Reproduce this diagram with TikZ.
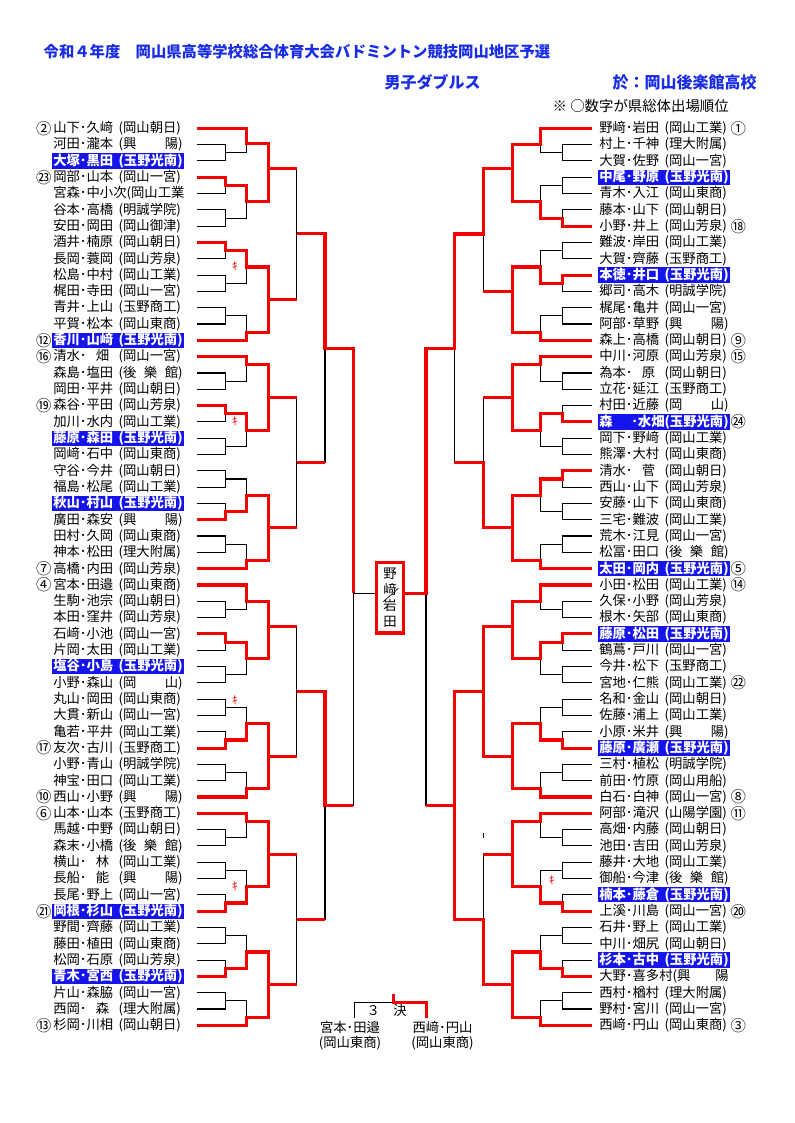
\documentclass[tikz,border=0pt]{standalone}
\usepackage{fontspec}
\setmainfont{Noto Sans CJK JP}
\definecolor{hlblue}{RGB}{20,20,235}
\definecolor{ttlblue}{RGB}{25,45,230}
\definecolor{winred}{RGB}{245,0,0}
\newcommand\tm[2]{\makebox[49pt][l]{#1}\makebox[48pt][l]{#2}}
\begin{document}
\begin{tikzpicture}[x=0.75pt,y=-0.75pt,
    ent/.style={anchor=west,inner xsep=1pt,inner ysep=0pt,minimum height=11.5pt,font=\fontsize{10}{12}\selectfont},
    hl/.style={fill=hlblue,text=white,font=\fontsize{10}{12}\selectfont\bfseries},
    num/.style={inner sep=0pt,font=\fontsize{11.5}{12}\selectfont},
    ln/.style={line width=0.8pt},
    win/.style={line width=2.3pt,draw=winred},
    ttl/.style={anchor=west,text=ttlblue,font=\fontsize{12}{14}\selectfont\bfseries},
    kiken/.style={text=winred,inner sep=0pt,font=\fontsize{8.5}{9}\selectfont}]
\useasboundingbox (0,0) rectangle (794,1123);

% heading
\node[ttl,font=\fontsize{11.5}{14}\selectfont\bfseries] (title) at (39,51.7)
    {令和４年度　岡山県高等学校総合体育大会バドミントン競技岡山地区予選};
\node[ttl] (event) at (380,82.7) {男子ダブルス};
\node[ttl] (venue) at (608,82.7) {於：岡山後楽館高校};
\node[anchor=west,font=\fontsize{10.8}{13}\selectfont] (note) at (548,106) {※ ○数字が県総体出場順位};

% left entries
\node[ent,label={[num]left:②}] (L1) at (51.7,128.3) {\tm{山下･久﨑}{(岡山朝日)}};
\node[ent] (L2) at (51.7,144.6) {\tm{河田･瀧本}{(興\hfill{}陽)}};
\node[ent,hl] (L3) at (51.7,160.9) {\tm{大塚･黒田}{(玉野光南)}};
\node[ent,label={[num]left:㉓}] (L4) at (51.7,177.2) {\tm{岡部･山本}{(岡山一宮)}};
\node[ent] (L5) at (51.7,193.5) {宮森･中小次(岡山工業};
\node[ent] (L6) at (51.7,209.9) {\tm{谷本･高橋}{(明誠学院)}};
\node[ent] (L7) at (51.7,226.2) {\tm{安田･岡田}{(岡山御津)}};
\node[ent] (L8) at (51.7,242.5) {\tm{酒井･楠原}{(岡山朝日)}};
\node[ent] (L9) at (51.7,258.8) {\tm{長岡･蓑岡}{(岡山芳泉)}};
\node[ent] (L10) at (51.7,275.1) {\tm{松島･中村}{(岡山工業)}};
\node[ent] (L11) at (51.7,291.4) {\tm{梶田･寺田}{(岡山一宮)}};
\node[ent] (L12) at (51.7,307.7) {\tm{青井･上山}{(玉野商工)}};
\node[ent] (L13) at (51.7,324.0) {\tm{平賀･松本}{(岡山東商)}};
\node[ent,hl,label={[num]left:⑫}] (L14) at (51.7,340.3) {\tm{香川･山﨑}{(玉野光南)}};
\node[ent,label={[num]left:⑯}] (L15) at (51.7,356.6) {\tm{清水･\hfill{}畑\hfill{}}{(岡山一宮)}};
\node[ent] (L16) at (51.7,373.0) {\tm{森島･塩田}{(後\hfill{}樂\hfill{}館)}};
\node[ent] (L17) at (51.7,389.3) {\tm{岡田･平井}{(岡山朝日)}};
\node[ent,label={[num]left:⑲}] (L18) at (51.7,405.6) {\tm{森谷･平田}{(岡山芳泉)}};
\node[ent] (L19) at (51.7,421.9) {\tm{加川･水内}{(岡山工業)}};
\node[ent,hl] (L20) at (51.7,438.2) {\tm{藤原･森田}{(玉野光南)}};
\node[ent] (L21) at (51.7,454.5) {\tm{岡﨑･石中}{(岡山東商)}};
\node[ent] (L22) at (51.7,470.8) {\tm{守谷･今井}{(岡山朝日)}};
\node[ent] (L23) at (51.7,487.1) {\tm{福島･松尾}{(岡山工業)}};
\node[ent,hl] (L24) at (51.7,503.4) {\tm{秋山･村山}{(玉野光南)}};
\node[ent] (L25) at (51.7,519.7) {\tm{廣田･森安}{(興\hfill{}陽)}};
\node[ent] (L26) at (51.7,536.0) {\tm{田村･久岡}{(岡山東商)}};
\node[ent] (L27) at (51.7,552.4) {\tm{神本･松田}{(理大附属)}};
\node[ent,label={[num]left:⑦}] (L28) at (51.7,568.7) {\tm{高橋･内田}{(岡山芳泉)}};
\node[ent,label={[num]left:④}] (L29) at (51.7,585.0) {\tm{宮本･田邉}{(岡山東商)}};
\node[ent] (L30) at (51.7,601.3) {\tm{生駒･池宗}{(岡山朝日)}};
\node[ent] (L31) at (51.7,617.6) {\tm{本田･窪井}{(岡山芳泉)}};
\node[ent] (L32) at (51.7,633.9) {\tm{石﨑･小池}{(岡山一宮)}};
\node[ent] (L33) at (51.7,650.2) {\tm{片岡･太田}{(岡山工業)}};
\node[ent,hl] (L34) at (51.7,666.5) {\tm{塩谷･小島}{(玉野光南)}};
\node[ent] (L35) at (51.7,682.8) {\tm{小野･森山}{(岡\hfill{}山)}};
\node[ent] (L36) at (51.7,699.1) {\tm{丸山･岡田}{(岡山東商)}};
\node[ent] (L37) at (51.7,715.4) {\tm{大貫･新山}{(岡山一宮)}};
\node[ent] (L38) at (51.7,731.8) {\tm{亀若･平井}{(岡山工業)}};
\node[ent,label={[num]left:⑰}] (L39) at (51.7,748.1) {\tm{友次･古川}{(玉野商工)}};
\node[ent] (L40) at (51.7,764.4) {\tm{小野･青山}{(明誠学院)}};
\node[ent] (L41) at (51.7,780.7) {\tm{神宝･田口}{(岡山工業)}};
\node[ent,label={[num]left:⑩}] (L42) at (51.7,797.0) {\tm{西山･小野}{(興\hfill{}陽)}};
\node[ent,label={[num]left:⑥}] (L43) at (51.7,813.3) {\tm{山本･山本}{(玉野商工)}};
\node[ent] (L44) at (51.7,829.6) {\tm{馬越･中野}{(岡山朝日)}};
\node[ent] (L45) at (51.7,845.9) {\tm{森末･小橋}{(後\hfill{}樂\hfill{}館)}};
\node[ent] (L46) at (51.7,862.2) {\tm{横山･\hfill{}林\hfill{}}{(岡山工業)}};
\node[ent] (L47) at (51.7,878.5) {\tm{長船･\hfill{}能\hfill{}}{(興\hfill{}陽)}};
\node[ent] (L48) at (51.7,894.8) {\tm{長尾･野上}{(岡山一宮)}};
\node[ent,hl,label={[num]left:㉑}] (L49) at (51.7,911.2) {\tm{岡根･杉山}{(玉野光南)}};
\node[ent] (L50) at (51.7,927.5) {\tm{野間･齊藤}{(岡山工業)}};
\node[ent] (L51) at (51.7,943.8) {\tm{藤田･植田}{(岡山東商)}};
\node[ent] (L52) at (51.7,960.1) {\tm{松岡･石原}{(岡山芳泉)}};
\node[ent,hl] (L53) at (51.7,976.4) {\tm{青木･宮西}{(玉野光南)}};
\node[ent] (L54) at (51.7,992.7) {\tm{片山･森脇}{(岡山一宮)}};
\node[ent] (L55) at (51.7,1009.0) {\tm{西岡･\hfill{}森\hfill{}}{(理大附属)}};
\node[ent,label={[num]left:⑬}] (L56) at (51.7,1025.3) {\tm{杉岡･川相}{(岡山朝日)}};

% right entries
\node[ent,label={[num]right:①}] (R1) at (597.7,128.3) {\tm{野﨑･岩田}{(岡山工業)}};
\node[ent] (R2) at (597.7,144.6) {\tm{村上･千神}{(理大附属)}};
\node[ent] (R3) at (597.7,160.9) {\tm{大賀･佐野}{(岡山一宮)}};
\node[ent,hl] (R4) at (597.7,177.2) {\tm{中尾･野原}{(玉野光南)}};
\node[ent] (R5) at (597.7,193.5) {\tm{青木･入江}{(岡山東商)}};
\node[ent] (R6) at (597.7,209.9) {\tm{藤本･山下}{(岡山朝日)}};
\node[ent,label={[num]right:⑱}] (R7) at (597.7,226.2) {\tm{小野･井上}{(岡山芳泉)}};
\node[ent] (R8) at (597.7,242.5) {\tm{難波･岸田}{(岡山工業)}};
\node[ent] (R9) at (597.7,258.8) {\tm{大賀･齊藤}{(玉野商工)}};
\node[ent,hl] (R10) at (597.7,275.1) {\tm{本徳･井口}{(玉野光南)}};
\node[ent] (R11) at (597.7,291.4) {\tm{郷司･高木}{(明誠学院)}};
\node[ent] (R12) at (597.7,307.7) {\tm{梶尾･亀井}{(岡山一宮)}};
\node[ent] (R13) at (597.7,324.0) {\tm{阿部･草野}{(興\hfill{}陽)}};
\node[ent,label={[num]right:⑨}] (R14) at (597.7,340.3) {\tm{森上･高橋}{(岡山朝日)}};
\node[ent,label={[num]right:⑮}] (R15) at (597.7,356.6) {\tm{中川･河原}{(岡山芳泉)}};
\node[ent] (R16) at (597.7,373.0) {\tm{為本･\hfill{}原\hfill{}}{(岡山朝日)}};
\node[ent] (R17) at (597.7,389.3) {\tm{立花･延江}{(玉野商工)}};
\node[ent] (R18) at (597.7,405.6) {\tm{村田･近藤}{(岡\hfill{}山)}};
\node[ent,hl,label={[num]right:㉔}] (R19) at (597.7,421.9) {\tm{森\hfill{}･水畑}{(玉野光南)}};
\node[ent] (R20) at (597.7,438.2) {\tm{岡下･野﨑}{(岡山工業)}};
\node[ent] (R21) at (597.7,454.5) {\tm{熊澤･大村}{(岡山東商)}};
\node[ent] (R22) at (597.7,470.8) {\tm{清水･\hfill{}菅\hfill{}}{(岡山朝日)}};
\node[ent] (R23) at (597.7,487.1) {\tm{西山･山下}{(岡山芳泉)}};
\node[ent] (R24) at (597.7,503.4) {\tm{安藤･山下}{(岡山東商)}};
\node[ent] (R25) at (597.7,519.7) {\tm{三宅･難波}{(岡山工業)}};
\node[ent] (R26) at (597.7,536.0) {\tm{荒木･江見}{(岡山一宮)}};
\node[ent] (R27) at (597.7,552.4) {\tm{松冨･田口}{(後\hfill{}樂\hfill{}館)}};
\node[ent,hl,label={[num]right:⑤}] (R28) at (597.7,568.7) {\tm{太田･岡内}{(玉野光南)}};
\node[ent,label={[num]right:⑭}] (R29) at (597.7,585.0) {\tm{小田･松田}{(岡山工業)}};
\node[ent] (R30) at (597.7,601.3) {\tm{久保･小野}{(岡山芳泉)}};
\node[ent] (R31) at (597.7,617.6) {\tm{根木･矢部}{(岡山東商)}};
\node[ent,hl] (R32) at (597.7,633.9) {\tm{藤原･松田}{(玉野光南)}};
\node[ent] (R33) at (597.7,650.2) {\tm{鶴蔦･戸川}{(岡山一宮)}};
\node[ent] (R34) at (597.7,666.5) {\tm{今井･松下}{(玉野商工)}};
\node[ent,label={[num]right:㉒}] (R35) at (597.7,682.8) {\tm{宮地･仁熊}{(岡山工業)}};
\node[ent] (R36) at (597.7,699.1) {\tm{名和･金山}{(岡山朝日)}};
\node[ent] (R37) at (597.7,715.4) {\tm{佐藤･浦上}{(岡山工業)}};
\node[ent] (R38) at (597.7,731.8) {\tm{小原･米井}{(興\hfill{}陽)}};
\node[ent,hl] (R39) at (597.7,748.1) {\tm{藤原･廣瀬}{(玉野光南)}};
\node[ent] (R40) at (597.7,764.4) {\tm{三村･植松}{(明誠学院)}};
\node[ent] (R41) at (597.7,780.7) {\tm{前田･竹原}{(岡山用船)}};
\node[ent,label={[num]right:⑧}] (R42) at (597.7,797.0) {\tm{白石･白神}{(岡山一宮)}};
\node[ent,label={[num]right:⑪}] (R43) at (597.7,813.3) {\tm{阿部･滝沢}{(山陽学園)}};
\node[ent] (R44) at (597.7,829.6) {\tm{高畑･内藤}{(岡山朝日)}};
\node[ent] (R45) at (597.7,845.9) {\tm{池田･吉田}{(岡山芳泉)}};
\node[ent] (R46) at (597.7,862.2) {\tm{藤井･大地}{(岡山工業)}};
\node[ent] (R47) at (597.7,878.5) {\tm{御船･今津}{(後\hfill{}樂\hfill{}館)}};
\node[ent,hl] (R48) at (597.7,894.8) {\tm{楠本･藤倉}{(玉野光南)}};
\node[ent,label={[num]right:⑳}] (R49) at (597.7,911.2) {\tm{上溪･川島}{(岡山一宮)}};
\node[ent] (R50) at (597.7,927.5) {\tm{石井･野上}{(岡山工業)}};
\node[ent] (R51) at (597.7,943.8) {\tm{中川･畑尻}{(岡山朝日)}};
\node[ent,hl] (R52) at (597.7,960.1) {\tm{杉本･古中}{(玉野光南)}};
\node[ent] (R53) at (597.7,976.4) {\makebox[97pt][l]{大野･喜多村(興\hfill{}陽}};
\node[ent] (R54) at (597.7,992.7) {\tm{西村･楢村}{(理大附属)}};
\node[ent] (R55) at (597.7,1009.0) {\tm{野村･宮川}{(岡山一宮)}};
\node[ent,label={[num]right:③}] (R56) at (597.7,1025.3) {\tm{西﨑･円山}{(岡山東商)}};

% champion
\node[draw=winred,line width=2.3pt,inner sep=0pt,minimum width=20.3pt,minimum height=52.9pt,
    align=center,font=\fontsize{10}{11.9}\selectfont] (champ) at (390,597.7) {野\\﨑\\岩\\田};
\draw[line width=0.5pt] ([shift={(-6.7,4)}]champ.center) -- ([shift={(8.3,-9.4)}]champ.center);

% match points, left
\coordinate (lx) at (197,0);
\coordinate (l2x3) at (225.7,152.8); \coordinate (l1x3) at (246.7,143.3);
\coordinate (l4x5) at (225.7,185.4); \coordinate (l6x7) at (225.7,218.1);
\coordinate (l4x7) at (246.7,201.7); \coordinate (l1x7) at (268.3,168.3);
\coordinate (l8x9) at (225.7,250.7); \coordinate (l10x11) at (225.7,283.3);
\coordinate (l8x11) at (246.7,267.0); \coordinate (l12x13) at (225.7,315.9);
\coordinate (l12x14) at (246.7,332.2); \coordinate (l8x14) at (268.3,299.6);
\coordinate (l1x14) at (296.7,233.5);
\coordinate (l16x17) at (225.7,381.2); \coordinate (l15x17) at (246.7,364.8);
\coordinate (l18x19) at (225.7,413.8); \coordinate (l20x21) at (225.7,446.4);
\coordinate (l18x21) at (246.7,430.1); \coordinate (l15x21) at (268.3,397.4);
\coordinate (l22x23) at (225.7,479.0); \coordinate (l24x25) at (225.7,511.6);
\coordinate (l22x25) at (246.7,495.3); \coordinate (l26x27) at (225.7,544.2);
\coordinate (l26x28) at (246.7,560.6); \coordinate (l22x28) at (268.3,527.9);
\coordinate (l15x28) at (296.7,462.7); \coordinate (l1x28) at (325,348.1);
\coordinate (l30x31) at (225.7,609.5); \coordinate (l29x31) at (246.7,601.5);
\coordinate (l32x33) at (225.7,642.1); \coordinate (l34x35) at (225.7,674.7);
\coordinate (l32x35) at (246.7,658.4); \coordinate (l29x35) at (268.3,626.5);
\coordinate (l36x37) at (225.7,707.3); \coordinate (l38x39) at (225.7,740.0);
\coordinate (l36x39) at (246.7,723.6); \coordinate (l40x41) at (225.7,772.6);
\coordinate (l40x42) at (246.7,788.9); \coordinate (l36x42) at (268.3,756.2);
\coordinate (l29x42) at (296.7,691.8);
\coordinate (l44x45) at (225.7,837.8); \coordinate (l43x45) at (246.7,821.5);
\coordinate (l46x47) at (225.7,870.4); \coordinate (l48x49) at (225.7,903.0);
\coordinate (l46x49) at (246.7,886.7); \coordinate (l43x49) at (268.3,854.5);
\coordinate (l50x51) at (225.7,935.7); \coordinate (l52x53) at (225.7,968.3);
\coordinate (l50x53) at (246.7,952.0); \coordinate (l54x55) at (225.7,1000.9);
\coordinate (l54x56) at (246.7,1017.2); \coordinate (l50x56) at (268.3,984.6);
\coordinate (l43x56) at (296.7,919.6); \coordinate (l29x56) at (325,805.7);
\coordinate (l1x56) at (353.3,593.3);

% match points, right
\coordinate (rx) at (592,0);
\coordinate (r2x3) at (562.3,152.8); \coordinate (r1x3) at (540.7,144.6);
\coordinate (r4x5) at (562.3,185.4); \coordinate (r6x7) at (562.3,218.1);
\coordinate (r4x7) at (540.7,201.7); \coordinate (r1x7) at (512.3,168.3);
\coordinate (r8x9) at (562.3,250.7); \coordinate (r10x11) at (562.3,283.3);
\coordinate (r8x11) at (540.7,267.0); \coordinate (r12x13) at (562.3,315.9);
\coordinate (r12x14) at (540.7,332.2); \coordinate (r8x14) at (512.3,291.7);
\coordinate (r1x14) at (483.3,234.0);
\coordinate (r16x17) at (562.3,381.2); \coordinate (r15x17) at (540.7,364.8);
\coordinate (r18x19) at (562.3,413.8); \coordinate (r20x21) at (562.3,446.4);
\coordinate (r18x21) at (540.7,430.1); \coordinate (r15x21) at (512.3,397.4);
\coordinate (r22x23) at (562.3,479.0); \coordinate (r24x25) at (562.3,511.6);
\coordinate (r22x25) at (540.7,495.3); \coordinate (r26x27) at (562.3,544.2);
\coordinate (r26x28) at (540.7,560.6); \coordinate (r22x28) at (512.3,527.9);
\coordinate (r15x28) at (483.3,462.7); \coordinate (r1x28) at (454.3,348.1);
\coordinate (r30x31) at (562.3,609.5); \coordinate (r29x31) at (540.7,601.5);
\coordinate (r32x33) at (562.3,642.1); \coordinate (r34x35) at (562.3,674.7);
\coordinate (r32x35) at (540.7,658.4); \coordinate (r29x35) at (512.3,626.5);
\coordinate (r36x37) at (562.3,707.3); \coordinate (r38x39) at (562.3,740.0);
\coordinate (r36x39) at (540.7,723.6); \coordinate (r40x41) at (562.3,772.6);
\coordinate (r40x42) at (540.7,788.9); \coordinate (r36x42) at (512.3,756.2);
\coordinate (r29x42) at (483.3,691.8);
\coordinate (r44x45) at (562.3,837.8); \coordinate (r43x45) at (540.7,821.5);
\coordinate (r46x47) at (562.3,870.4); \coordinate (r48x49) at (562.3,903.0);
\coordinate (r46x49) at (540.7,886.7); \coordinate (r43x49) at (512.3,854.5);
\coordinate (r50x51) at (562.3,935.7); \coordinate (r52x53) at (562.3,968.3);
\coordinate (r50x53) at (540.7,952.0); \coordinate (r54x55) at (562.3,1000.9);
\coordinate (r54x56) at (540.7,1017.2); \coordinate (r50x56) at (512.3,984.6);
\coordinate (r43x56) at (483.3,919.6); \coordinate (r29x56) at (454.3,805.7);
\coordinate (r1x56) at (426,593.3);

% bracket, left
\draw[ln] (L1 -| lx) -| (l1x3) (L2 -| lx) -| (l2x3) (L3 -| lx) -| (l2x3) (l2x3) -| (l1x3)
    (L4 -| lx) -| (l4x5) (L5 -| lx) -| (l4x5) (L6 -| lx) -| (l6x7) (L7 -| lx) -| (l6x7)
    (l4x5) -| (l4x7) (l6x7) -| (l4x7) (l1x3) -| (l1x7) (l4x7) -| (l1x7);
\draw[ln] (L8 -| lx) -| (l8x9) (L9 -| lx) -| (l8x9) (L10 -| lx) -| (l10x11) (L11 -| lx) -| (l10x11)
    (l8x9) -| (l8x11) (l10x11) -| (l8x11)
    (L12 -| lx) -| (l12x13) (L13 -| lx) -| (l12x13) (l12x13) -| (l12x14) (L14 -| lx) -| (l12x14)
    (l8x11) -| (l8x14) (l12x14) -| (l8x14) (l1x7) -| (l1x14) (l8x14) -| (l1x14);
\draw[ln] (L15 -| lx) -| (l15x17) (L16 -| lx) -| (l16x17) (L17 -| lx) -| (l16x17) (l16x17) -| (l15x17)
    (L18 -| lx) -| (l18x19) (L19 -| lx) -| (l18x19) (L20 -| lx) -| (l20x21) (L21 -| lx) -| (l20x21)
    (l18x19) -| (l18x21) (l20x21) -| (l18x21) (l15x17) -| (l15x21) (l18x21) -| (l15x21);
\draw[ln] (L22 -| lx) -| (l22x23) (L23 -| lx) -| (l22x23) (L24 -| lx) -| (l24x25) (L25 -| lx) -| (l24x25)
    (l22x23) -| (l22x25) (l24x25) -| (l22x25)
    (L26 -| lx) -| (l26x27) (L27 -| lx) -| (l26x27) (l26x27) -| (l26x28) (L28 -| lx) -| (l26x28)
    (l22x25) -| (l22x28) (l26x28) -| (l22x28) (l15x21) -| (l15x28) (l22x28) -| (l15x28)
    (l1x14) -| (l1x28) (l15x28) -| (l1x28);
\draw[ln] (L29 -| lx) -| (l29x31) (L30 -| lx) -| (l30x31) (L31 -| lx) -| (l30x31) (l30x31) -| (l29x31)
    (L32 -| lx) -| (l32x33) (L33 -| lx) -| (l32x33) (L34 -| lx) -| (l34x35) (L35 -| lx) -| (l34x35)
    (l32x33) -| (l32x35) (l34x35) -| (l32x35) (l29x31) -| (l29x35) (l32x35) -| (l29x35);
\draw[ln] (L36 -| lx) -| (l36x37) (L37 -| lx) -| (l36x37) (L38 -| lx) -| (l38x39) (L39 -| lx) -| (l38x39)
    (l36x37) -| (l36x39) (l38x39) -| (l36x39)
    (L40 -| lx) -| (l40x41) (L41 -| lx) -| (l40x41) (l40x41) -| (l40x42) (L42 -| lx) -| (l40x42)
    (l36x39) -| (l36x42) (l40x42) -| (l36x42) (l29x35) -| (l29x42) (l36x42) -| (l29x42);
\draw[ln] (L43 -| lx) -| (l43x45) (L44 -| lx) -| (l44x45) (L45 -| lx) -| (l44x45) (l44x45) -| (l43x45)
    (L46 -| lx) -| (l46x47) (L47 -| lx) -| (l46x47) (L48 -| lx) -| (l48x49) (L49 -| lx) -| (l48x49)
    (l46x47) -| (l46x49) (l48x49) -| (l46x49) (l43x45) -| (l43x49) (l46x49) -| (l43x49);
\draw[ln] (L50 -| lx) -| (l50x51) (L51 -| lx) -| (l50x51) (L52 -| lx) -| (l52x53) (L53 -| lx) -| (l52x53)
    (l50x51) -| (l50x53) (l52x53) -| (l50x53)
    (L54 -| lx) -| (l54x55) (L55 -| lx) -| (l54x55) (l54x55) -| (l54x56) (L56 -| lx) -| (l54x56)
    (l50x53) -| (l50x56) (l54x56) -| (l50x56) (l43x49) -| (l43x56) (l50x56) -| (l43x56)
    (l29x42) -| (l29x56) (l43x56) -| (l29x56);
\draw[ln] (l1x28) -| (l1x56) (l29x56) -| (l1x56) (l1x56) -- (l1x56 -| champ.west);

% bracket, right
\draw[ln] (R1 -| rx) -| (r1x3) (R2 -| rx) -| (r2x3) (R3 -| rx) -| (r2x3) (r2x3) -| (r1x3)
    (R4 -| rx) -| (r4x5) (R5 -| rx) -| (r4x5) (R6 -| rx) -| (r6x7) (R7 -| rx) -| (r6x7)
    (r4x5) -| (r4x7) (r6x7) -| (r4x7) (r1x3) -| (r1x7) (r4x7) -| (r1x7);
\draw[ln] (R8 -| rx) -| (r8x9) (R9 -| rx) -| (r8x9) (R10 -| rx) -| (r10x11) (R11 -| rx) -| (r10x11)
    (r8x9) -| (r8x11) (r10x11) -| (r8x11)
    (R12 -| rx) -| (r12x13) (R13 -| rx) -| (r12x13) (r12x13) -| (r12x14) (R14 -| rx) -| (r12x14)
    (r8x11) -| (r8x14) (r12x14) -| (r8x14) (r1x7) -| (r1x14) (r8x14) -| (r1x14);
\draw[ln] (R15 -| rx) -| (r15x17) (R16 -| rx) -| (r16x17) (R17 -| rx) -| (r16x17) (r16x17) -| (r15x17)
    (R18 -| rx) -| (r18x19) (R19 -| rx) -| (r18x19) (R20 -| rx) -| (r20x21) (R21 -| rx) -| (r20x21)
    (r18x19) -| (r18x21) (r20x21) -| (r18x21) (r15x17) -| (r15x21) (r18x21) -| (r15x21);
\draw[ln] (R22 -| rx) -| (r22x23) (R23 -| rx) -| (r22x23) (R24 -| rx) -| (r24x25) (R25 -| rx) -| (r24x25)
    (r22x23) -| (r22x25) (r24x25) -| (r22x25)
    (R26 -| rx) -| (r26x27) (R27 -| rx) -| (r26x27) (r26x27) -| (r26x28) (R28 -| rx) -| (r26x28)
    (r22x25) -| (r22x28) (r26x28) -| (r22x28) (r15x21) -| (r15x28) (r22x28) -| (r15x28)
    (r1x14) -| (r1x28) (r15x28) -| (r1x28);
\draw[ln] (R29 -| rx) -| (r29x31) (R30 -| rx) -| (r30x31) (R31 -| rx) -| (r30x31) (r30x31) -| (r29x31)
    (R32 -| rx) -| (r32x33) (R33 -| rx) -| (r32x33) (R34 -| rx) -| (r34x35) (R35 -| rx) -| (r34x35)
    (r32x33) -| (r32x35) (r34x35) -| (r32x35) (r29x31) -| (r29x35) (r32x35) -| (r29x35);
\draw[ln] (R36 -| rx) -| (r36x37) (R37 -| rx) -| (r36x37) (R38 -| rx) -| (r38x39) (R39 -| rx) -| (r38x39)
    (r36x37) -| (r36x39) (r38x39) -| (r36x39)
    (R40 -| rx) -| (r40x41) (R41 -| rx) -| (r40x41) (r40x41) -| (r40x42) (R42 -| rx) -| (r40x42)
    (r36x39) -| (r36x42) (r40x42) -| (r36x42) (r29x35) -| (r29x42) (r36x42) -| (r29x42);
\draw[ln] (R43 -| rx) -| (r43x45) (R44 -| rx) -| (r44x45) (R45 -| rx) -| (r44x45) (r44x45) -| (r43x45)
    (R46 -| rx) -| (r46x47) (R47 -| rx) -| (r46x47) (R48 -| rx) -| (r48x49) (R49 -| rx) -| (r48x49)
    (r46x47) -| (r46x49) (r48x49) -| (r46x49) (r43x45) -| (r43x49) (r46x49) -| (r43x49);
\draw[ln] (R50 -| rx) -| (r50x51) (R51 -| rx) -| (r50x51) (R52 -| rx) -| (r52x53) (R53 -| rx) -| (r52x53)
    (r50x51) -| (r50x53) (r52x53) -| (r50x53)
    (R54 -| rx) -| (r54x55) (R55 -| rx) -| (r54x55) (r54x55) -| (r54x56) (R56 -| rx) -| (r54x56)
    (r50x53) -| (r50x56) (r54x56) -| (r50x56) (r43x49) -| (r43x56) (r50x56) -| (r43x56)
    (r29x42) -| (r29x56) (r43x56) -| (r29x56);
\draw[ln] (r1x28) -| (r1x56) (r29x56) -| (r1x56);
\draw[ln] (483.3,833.3) -- (483.3,838.3);

% winners, left
\draw[win] (L1 -| lx) -| (l1x3) -| (l1x7) -- (l1x7 -| l1x14);
\draw[win] (L4 -| lx) -| (l4x5) -| (l4x7) -| (l1x7);
\draw[win] (L8 -| lx) -| (l8x9) -| (l8x11) -| (l8x14) -- (l8x14 -| l1x14);
\draw[win] (L14 -| lx) -| (l12x14) -| (l8x14);
\draw[win] (l1x14) -| (l1x28) -| (l1x56);
\draw[win] (L15 -| lx) -| (l15x17) -| (l15x21) -- (l15x21 -| l15x28);
\draw[win] (L18 -| lx) -| (l18x19) -| (l18x21) -| (l15x21);
\draw[win] (L25 -| lx) -| (l24x25) -| (l22x25) -| (l22x28) -- (l22x28 -| l15x28);
\draw[win] (L28 -| lx) -| (l26x28) -| (l22x28);
\draw[win] (l15x28) -- (l15x28 -| l1x28);
\draw[win] (L29 -| lx) -| (l29x31) -| (l29x35) -- (l29x35 -| l29x42);
\draw[win] (L32 -| lx) -| (l32x33) -| (l32x35) -| (l29x35);
\draw[win] (L39 -| lx) -| (l38x39) -| (l36x39) -| (l36x42) -- (l36x42 -| l29x42);
\draw[win] (L42 -| lx) -| (l40x42) -| (l36x42);
\draw[win] (l29x42) -| (l29x56) -- (l29x56 -| l1x56);
\draw[win] (L43 -| lx) -| (l43x45) -| (l43x49) -- (l43x49 -| l43x56);
\draw[win] (L49 -| lx) -| (l48x49) -| (l46x49) -| (l43x49);
\draw[win] (L53 -| lx) -| (l52x53) -| (l50x53) -| (l50x56) -- (l50x56 -| l43x56);
\draw[win] (L56 -| lx) -| (l54x56) -| (l50x56);
\draw[win] (l43x56) -- (l43x56 -| l29x56);

% winners, right
\draw[win] (R1 -| rx) -| (r1x3) -| (r1x7) -| (r1x14) -| (r1x28) -| (r1x56) -- (r1x56 -| champ.east);
\draw[win] (R7 -| rx) -| (r6x7) -| (r4x7) -| (r1x7);
\draw[win] (R10 -| rx) -| (r10x11) -| (r8x11) -| (r8x14) -- (r8x14 -| r1x14);
\draw[win] (R14 -| rx) -| (r12x14) -| (r8x14);
\draw[win] (R15 -| rx) -| (r15x17) -| (r15x21) -- (r15x21 -| r15x28);
\draw[win] (R19 -| rx) -| (r18x19) -| (r18x21) -| (r15x21);
\draw[win] (R22 -| rx) -| (r22x23) -| (r22x25) -| (r22x28) -| (r15x28) -- (r15x28 -| r1x28);
\draw[win] (R28 -| rx) -| (r26x28) -| (r22x28);
\draw[win] (R29 -| rx) -| (r29x31) -| (r29x35) -| (r29x42) -| (r29x56) -- (r29x56 -| r1x56);
\draw[win] (R32 -| rx) -| (r32x33) -| (r32x35) -| (r29x35);
\draw[win] (R39 -| rx) -| (r38x39) -| (r36x39) -| (r36x42) -| (r29x42);
\draw[win] (R42 -| rx) -| (r40x42) -| (r36x42);
\draw[win] (R43 -| rx) -| (r43x45) -| (r43x49) -- (r43x49 -| r43x56);
\draw[win] (R49 -| rx) -| (r48x49) -| (r46x49) -| (r43x49);
\draw[win] (R53 -| rx) -| (r52x53) -| (r50x53) -| (r50x56) -| (r43x56) -| (r29x56);
\draw[win] (R56 -| rx) -| (r54x56) -| (r50x56);

% withdrawals
\node[kiken] (k1) at (235,266.7) {ｷ};
\node[kiken] (k2) at (235,421.0) {ｷ};
\node[kiken] (k3) at (235,700.0) {ｷ};
\node[kiken] (k4) at (235,886.7) {ｷ};
\node[kiken] (k5) at (551.7,880.0) {ｷ};

% third place
\node[font=\fontsize{10}{12}\selectfont] (third) at (386.7,1010.7) {３　決};
\node[align=center,inner sep=0pt,font=\fontsize{10}{11.3}\selectfont] (thirdL) at (350,1035.5) {宮本･田邉\\(岡山東商)};
\node[align=center,inner sep=0pt,font=\fontsize{10}{11.3}\selectfont] (thirdR) at (442.5,1035.5) {西﨑･円山\\(岡山東商)};
\coordinate (q3t) at (393.3,994);
\coordinate (q3m) at (393.3,1002.7);
\coordinate (q3l) at (354.3,1018);
\coordinate (q3r) at (426.7,1018);
\draw[ln] (q3l) |- (q3m);
\draw[win] (q3t) -- (q3m) -| (q3r);
\end{tikzpicture}
\end{document}
